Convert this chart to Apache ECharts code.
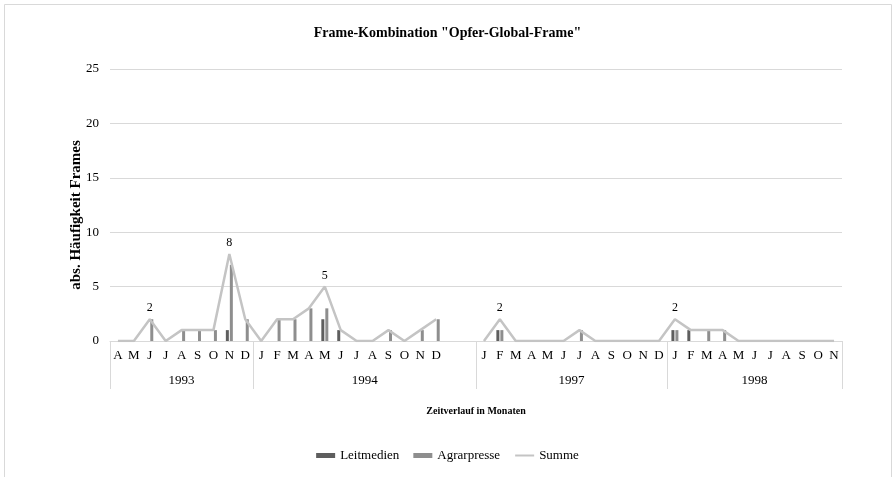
<!DOCTYPE html>
<html>
<head>
<meta charset="utf-8">
<script src="https://cdn.jsdelivr.net/npm/echarts@6/dist/echarts.min.js"></script>
<style>
  html, body { margin: 0; padding: 0; background: #fff; }
  #chart { width: 895px; height: 477px; }
</style>
</head>
<body>
<div id="chart"></div>
<script>
// Jahre und Monate (1994 hat zwei leere Kategorien am Ende)
const years = ['1993', '1994', '1997', '1998']
const months1993 = ['A', 'M', 'J', 'J', 'A', 'S', 'O', 'N', 'D']
const months1994 = ['J', 'F', 'M', 'A', 'M', 'J', 'J', 'A', 'S', 'O', 'N', 'D', '', '']
const months1997 = ['J', 'F', 'M', 'A', 'M', 'J', 'J', 'A', 'S', 'O', 'N', 'D']
const months1998 = ['J', 'F', 'M', 'A', 'M', 'J', 'J', 'A', 'S', 'O', 'N']

const leitmedien = [
  0, 0, 0, 0, 0, 0, 0, 1, 0,
  0, 0, 0, 0, 2, 1, 0, 0, 0, 0, 0, 0, null, null,
  0, 1, 0, 0, 0, 0, 0, 0, 0, 0, 0, 0,
  1, 1, 0, 0, 0, 0, 0, 0, 0, 0, 0
]
const agrarpresse = [
  0, 0, 2, 0, 1, 1, 1, 7, 2,
  0, 2, 2, 3, 3, 0, 0, 0, 1, 0, 1, 2, null, null,
  0, 1, 0, 0, 0, 0, 1, 0, 0, 0, 0, 0,
  1, 0, 1, 1, 0, 0, 0, 0, 0, 0, 0
]
const summe = [
  0, 0, 2, 0, 1, 1, 1, 8, 2,
  0, 2, 2, 3, 5, 1, 0, 0, 1, 0, 1, 2, null, null,
  0, 2, 0, 0, 0, 0, 1, 0, 0, 0, 0, 0,
  2, 1, 1, 1, 0, 0, 0, 0, 0, 0, 0
]
// Punkte der Summe mit Datenbeschriftung
const labeledPoints = [2, 7, 13, 24, 35]

const groups = [months1993, months1994, months1997, months1998]
const monthCats = [].concat(...groups)

// Grenzen und Mitte jeder Jahresgruppe
const groupStarts = []
const yearCats = []
let pos = 0
groups.forEach((g, gi) => {
  groupStarts.push(pos)
  const mid = Math.floor((g.length - 1) / 2)
  g.forEach((m, i) => {
    if (i === mid) {
      yearCats.push(g.length % 2 === 0 ? '{s|' + years[gi] + '}' : years[gi])
    } else {
      yearCats.push('')
    }
  })
  pos += g.length
})

const serif = 'Liberation Serif'
const chart = echarts.init(document.getElementById('chart'))

chart.setOption({
  animation: false,
  textStyle: { fontFamily: serif },
  title: {
    text: 'Frame-Kombination "Opfer-Global-Frame"',
    left: 'center',
    top: 21,
    textStyle: { fontFamily: serif, fontSize: 14, fontWeight: 'bold', color: '#000' }
  },
  graphic: [{
    type: 'rect',
    shape: { x: 4.5, y: 4.5, width: 887, height: 480 },
    style: { fill: 'none', stroke: '#d9d9d9', lineWidth: 1 },
    silent: true
  }],
  legend: {
    bottom: 10,
    left: 'center',
    itemWidth: 19,
    itemHeight: 5,
    itemGap: 14,
    textStyle: { fontFamily: serif, fontSize: 13, color: '#000' },
    data: [
      { name: 'Leitmedien', icon: 'rect' },
      { name: 'Agrarpresse', icon: 'rect' },
      { name: 'Summe', itemStyle: { opacity: 0 } }
    ]
  },
  grid: {
    left: 110,
    right: 53,
    top: 69,
    bottom: 136,
    containLabel: false
  },
  xAxis: [{
    type: 'category',
    data: monthCats,
    axisLine: { lineStyle: { color: '#d9d9d9', width: 1 } },
    axisTick: { show: false },
    axisLabel: { interval: 0, margin: 8, fontFamily: serif, fontSize: 13, color: '#000' }
  }, {
    type: 'category',
    position: 'bottom',
    data: yearCats,
    axisLine: { show: false },
    axisTick: {
      show: true,
      length: 48,
      interval: (i) => groupStarts.indexOf(i) >= 0,
      lineStyle: { color: '#d9d9d9', width: 1 }
    },
    axisLabel: {
      interval: 0,
      margin: 33,
      fontFamily: serif,
      fontSize: 13,
      color: '#000',
      rich: { s: { padding: [0, 0, 0, 16], fontFamily: serif, fontSize: 13, color: '#000' } }
    },
    name: 'Zeitverlauf in Monaten',
    nameLocation: 'middle',
    nameGap: 65,
    nameTextStyle: { fontFamily: serif, fontSize: 10, fontWeight: 'bold', color: '#000' }
  }],
  yAxis: {
    type: 'value',
    min: 0,
    max: 25,
    interval: 5,
    name: 'abs. Häufigkeit Frames',
    nameLocation: 'middle',
    nameGap: 26,
    nameMoveOverlap: false,
    nameTextStyle: {
      fontFamily: serif, fontSize: 15, fontWeight: 'bold', color: '#000',
      padding: [0, 20, 0, 0]
    },
    axisLine: { show: false },
    axisTick: { show: false },
    axisLabel: { margin: 11, fontFamily: serif, fontSize: 13, color: '#000' },
    splitLine: { lineStyle: { color: '#d9d9d9', width: 1 } }
  },
  series: [{
    name: 'Leitmedien',
    type: 'bar',
    data: leitmedien,
    barWidth: 3,
    barGap: '33%',
    itemStyle: { color: '#5e5e5e' }
  }, {
    name: 'Agrarpresse',
    type: 'bar',
    data: agrarpresse,
    barWidth: 3,
    barGap: '33%',
    itemStyle: { color: '#8e8e8e' }
  }, {
    name: 'Summe',
    type: 'line',
    data: summe.map((v, i) => labeledPoints.indexOf(i) >= 0
      ? { value: v, label: { show: true } }
      : v),
    symbol: 'circle',
    symbolSize: 0.1,
    showSymbol: true,
    connectNulls: false,
    lineStyle: { color: '#c4c4c4', width: 2.5 },
    itemStyle: { color: '#c4c4c4' },
    label: {
      show: false,
      position: 'top',
      distance: 5,
      fontFamily: serif,
      fontSize: 12,
      color: '#000'
    },
    z: 3
  }]
})
</script>
</body>
</html>
